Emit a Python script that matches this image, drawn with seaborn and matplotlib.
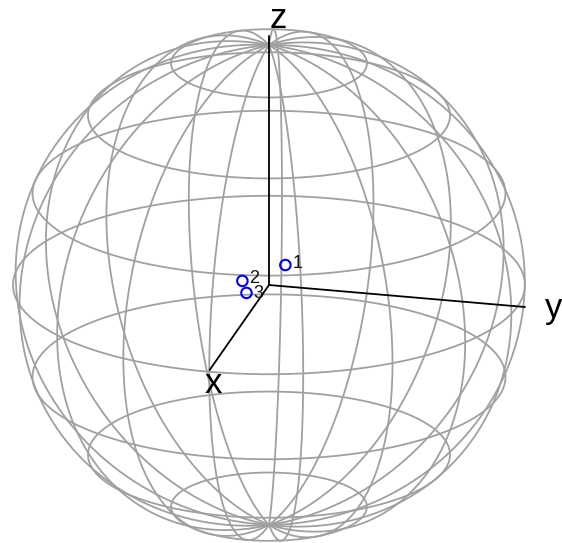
import numpy as np
import pandas as pd
import matplotlib
matplotlib.use("Agg")
import matplotlib.pyplot as plt
import seaborn as sns

# Sphere grid, view and marks
latitudes_deg = [-67.5, -45, -22.5, 0, 22.5, 45, 67.5]
longitudes_deg = [0, 21.18, 42.35, 63.53, 84.71, 105.88, 127.06, 148.24, 169.41,
                  190.59, 211.76, 232.94, 254.12, 275.29, 296.47, 317.65, 338.82]
view_azimuth_deg = 13.5
view_elevation_deg = 20.4

axis_names = ["x", "y", "z"]
axis_end_h = [-0.232, 1.0, 0.0]
axis_end_v = [-0.332, -0.086, 0.973]

point_names = ["1", "2", "3"]
point_h = [0.064, -0.104, -0.088]
point_v = [0.078, 0.016, -0.031]
label_dy = [-2.2, -1.5, -3.5]

W, H, CX, CY, R = 562, 543, 269, 285, 256

sns.set_theme(style="white", rc={"font.family": ["Liberation Sans", "DejaVu Sans"]})
fig = plt.figure(figsize=(W / 100, H / 100), dpi=100)
ax = fig.add_axes([0, 0, 1, 1])

a, e = np.radians(view_azimuth_deg), np.radians(view_elevation_deg)
right = np.array([-np.sin(a), np.cos(a), 0.0])
up = np.array([-np.cos(a) * np.sin(e), -np.sin(a) * np.sin(e), np.cos(e)])

rows = []
t = np.linspace(0, 2 * np.pi, 361)
for lat in np.radians(latitudes_deg):
    p = np.c_[np.cos(lat) * np.cos(t), np.cos(lat) * np.sin(t), np.full_like(t, np.sin(lat))]
    rows.append(pd.DataFrame({"h": p @ right, "v": p @ up, "curve": f"lat{lat}", "i": np.arange(t.size)}))
s = np.linspace(-np.pi / 2, np.pi / 2, 181)
for lon in np.radians(longitudes_deg):
    p = np.c_[np.cos(s) * np.cos(lon), np.cos(s) * np.sin(lon), np.sin(s)]
    rows.append(pd.DataFrame({"h": p @ right, "v": p @ up, "curve": f"lon{lon}", "i": np.arange(s.size)}))
grid = pd.concat(rows, ignore_index=True)

sns.lineplot(data=grid, x="h", y="v", units="curve", estimator=None, sort=False,
             color="#a0a0a0", linewidth=1.3, ax=ax, legend=False, zorder=1)

for h, v in zip(axis_end_h, axis_end_v):
    sns.lineplot(x=[0, h], y=[0, v], color="black", linewidth=1.3, estimator=None,
                 sort=False, ax=ax, legend=False, zorder=2)

sns.scatterplot(x=point_h, y=point_v, s=57, facecolor="none", edgecolor="#0000ee",
                linewidth=1.5, ax=ax, legend=False, zorder=3)

for name, h, v, dy in zip(point_names, point_h, point_v, label_dy):
    ax.annotate(name, (h, v), xytext=(5, dy), textcoords="offset points", fontsize=13,
                color="#111111", ha="left", va="baseline", zorder=4)

ax.text((213.5 - CX) / R, (CY - 393) / R, "x", fontsize=25, ha="center", va="baseline", color="black")
ax.text((545 - CX) / R, (CY - 318) / R, "y", fontsize=25, ha="left", va="baseline", color="black")
ax.text((278.5 - CX) / R, (CY - 28) / R, "z", fontsize=25, ha="center", va="baseline", color="black")

ax.set_xlim(-CX / R, (W - CX) / R)
ax.set_ylim((CY - H) / R, CY / R)
ax.set_axis_off()
fig.savefig("out.png", dpi=100)
